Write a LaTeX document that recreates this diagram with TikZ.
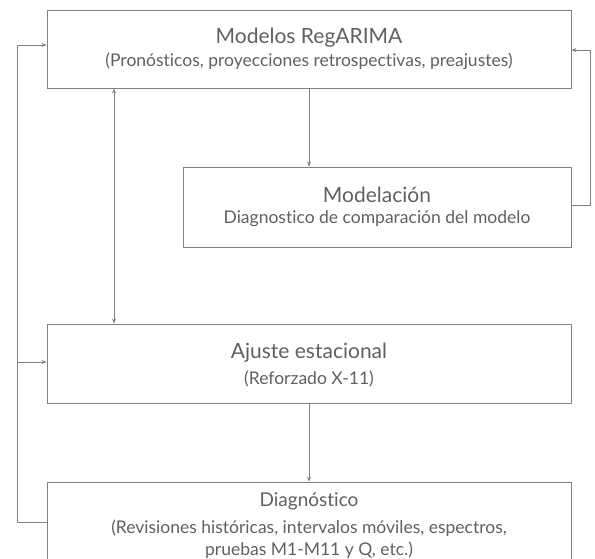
\documentclass[tikz,border=0pt]{standalone}
\usepackage{fontspec}
\setmainfont{Lato}[Ligatures={NoCommon}]
\usetikzlibrary{arrows.meta}
\definecolor{ln}{HTML}{808080}
\definecolor{tx}{HTML}{606060}
\tikzset{
  box/.style={draw=ln, line width=0.8pt, rectangle, inner sep=0pt},
  ttl/.style={text=tx, font=\fontsize{21}{24}\selectfont},
  sub/.style={text=tx, font=\fontsize{17.5}{22}\selectfont, align=center},
  conn/.style={draw=ln, line width=0.8pt},
  arr/.style={conn, -{Stealth[length=5pt,width=4pt]}},
  darr/.style={conn, {Stealth[length=5pt,width=4pt]}-{Stealth[length=5pt,width=4pt]}}
}
\begin{document}
\begin{tikzpicture}[x=1pt,y=-1pt]
\useasboundingbox (0,0) rectangle (595,558);
\clip (0,0) rectangle (595,558);
% boxes
\node[box, minimum width=524pt, minimum height=78pt] (reg) at (309,49) {};
\node[box, minimum width=388pt, minimum height=80pt] (mod) at (377,207) {};
\node[box, minimum width=524pt, minimum height=79pt] (aju) at (309,363.5) {};
\node[box, minimum width=524pt, minimum height=100pt] (dia) at (309,532) {};
% texts
\node[ttl] (regt) at (309,38) {Modelos RegARIMA};
\node[sub] (regs) at (309,61) {(Pronósticos, proyecciones retrospectivas, preajustes)};
\node[ttl] (modt) at (377,195) {Modelación};
\node[sub] (mods) at (377,219) {Diagnostico de comparación del modelo};
\node[ttl] (ajut) at (309,353) {Ajuste estacional};
\node[sub] (ajus) at (309,379) {(Reforzado X-11)};
\node[ttl, font=\fontsize{19}{22}\selectfont] (diat) at (309,501) {Diagnóstico};
\node[sub] (dias) at (309,539) {(Revisiones históricas, intervalos móviles, espectros,\\ pruebas M1-M11 y Q, etc.)};
% coordinates
\coordinate (L) at (17,0);
\coordinate (R) at (590,0);
% connectors
\draw[arr] (reg.south -| regt) -- (mod.north -| regt);
\draw[arr] (aju.south) -- (dia.north);
\draw[darr] (reg.south -| 114,0) -- (aju.north -| 114,0);
\draw[arr] (mod.east |- 0,205) -- (R |- 0,205) -- (R |- 0,50) -- (reg.east |- 0,50);
\draw[arr] (dia.west |- 0,522) -- (L |- 0,522) -- (L |- 0,45) -- (reg.west |- 0,45);
\draw[arr] (L |- 0,362) -- (aju.west |- 0,362);
\end{tikzpicture}
\end{document}
